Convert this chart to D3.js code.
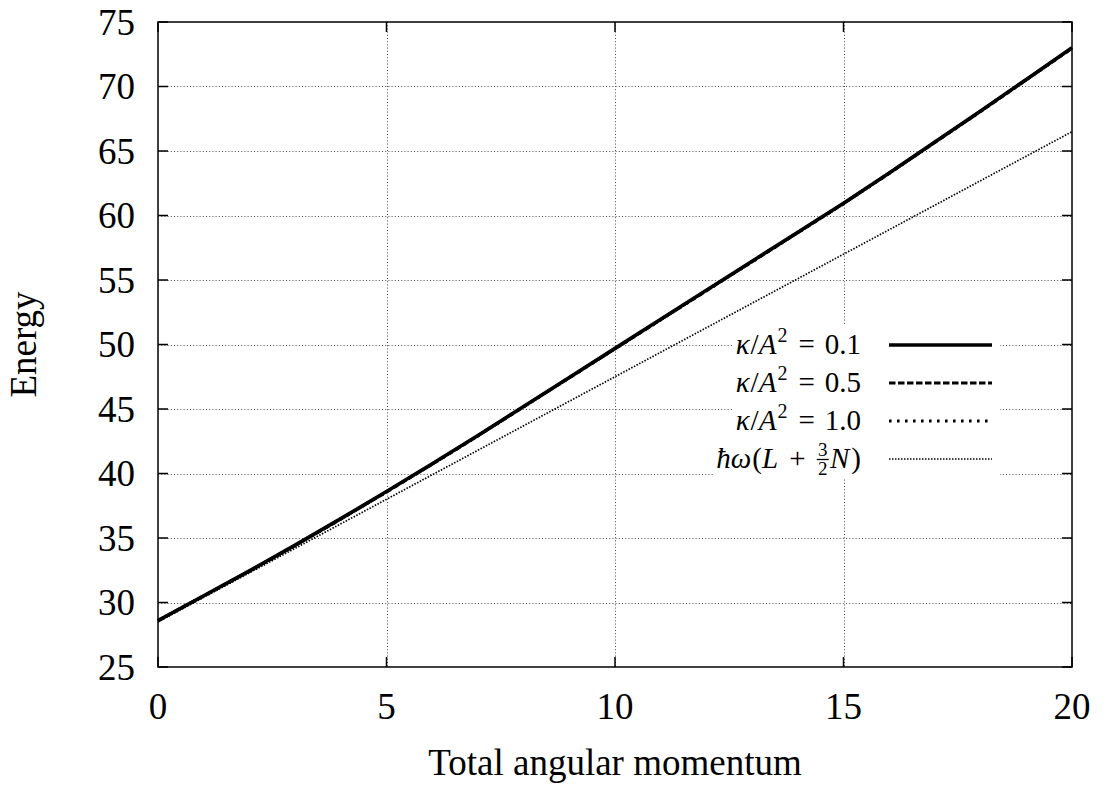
<!DOCTYPE html>
<html>
<head>
<meta charset="utf-8">
<script src="https://cdn.jsdelivr.net/npm/d3@7"></script>
<style>
  html, body { margin: 0; padding: 0; background: #fff; }
  svg { display: block; }
  .tick-label { font-family: "Liberation Serif", "DejaVu Serif", serif; font-size: 37px; fill: #000; }
  .leg { font-family: "Liberation Serif", "DejaVu Serif", serif; fill: #000; }
</style>
</head>
<body>
<svg id="chart" width="1106" height="788"></svg>
<script>
// ---- data ----
const angularMomentum = [0,1,2,3,4,5,6,7,8,9,10,11,12,13,14,15,16,17,18,19,20];
const energyKappa01 = [28.6,30.52,32.45,34.45,36.5,38.6,40.75,42.95,45.2,47.45,49.7,51.95,54.2,56.45,58.7,60.95,63.3,65.7,68.1,70.55,73.0];
const energyKappa05 = [28.6,30.51,32.44,34.43,36.48,38.58,40.73,42.93,45.18,47.43,49.68,51.93,54.18,56.43,58.68,60.93,63.28,65.68,68.08,70.53,72.98];
const energyKappa10 = [28.6,30.5,32.43,34.42,36.46,38.56,40.71,42.91,45.16,47.41,49.66,51.91,54.16,56.41,58.66,60.91,63.26,65.66,68.06,70.51,72.96];
const energyHarmonic = [28.5,30.4,32.3,34.2,36.1,38.0,39.9,41.8,43.7,45.6,47.5,49.4,51.3,53.2,55.1,57.0,58.9,60.8,62.7,64.6,66.5];
const xTicks = [0,5,10,15,20];
const yTicks = [25,30,35,40,45,50,55,60,65,70,75];
const xTitle = "Total angular momentum";
const yTitle = "Energy";
const kappaValues = ["0.1","0.5","1.0"];

// ---- layout ----
const svg = d3.select("#chart");
const m = {left: 158, right: 1072, top: 22, bottom: 667};
const x = d3.scaleLinear().domain([0, 20]).range([m.left, m.right]);
const y = d3.scaleLinear().domain([25, 75]).range([m.bottom, m.top]);

// grid
const grid = svg.append("g").attr("stroke", "#444").attr("stroke-width", 1).attr("stroke-dasharray", "1,2.2");
yTicks.slice(1, -1).forEach(v => {
  grid.append("line").attr("x1", m.left).attr("x2", m.right).attr("y1", Math.round(y(v)) + 0.5).attr("y2", Math.round(y(v)) + 0.5);
});
xTicks.slice(1, -1).forEach(v => {
  grid.append("line").attr("y1", m.top).attr("y2", m.bottom).attr("x1", Math.round(x(v)) + 0.5).attr("x2", Math.round(x(v)) + 0.5);
});

// legend
const legendG = svg.append("g");
const bgG = legendG.append("g");
const textG = legendG.append("g");
const legendRowsY = [345, 383, 421, 459];
const textRight = 861;
const sampleX1 = 889, sampleX2 = 992;
const styles = [
  {w: 3.6, dash: null},
  {w: 3.2, dash: "6.5,2.5"},
  {w: 3.0, dash: "2.6,5.4"},
  {w: 1.7, dash: "1.5,1.5"}
];
const FS = 29, SUP = 20, FR = 19;

function measure(str, size, italic) {
  const t = textG.append("text").attr("class", "leg").attr("font-size", size + "px")
    .attr("font-style", italic ? "italic" : "normal").text(str);
  const w = t.node().getComputedTextLength();
  t.remove();
  return w;
}
function layout(pieces, rightX, baseY) {
  pieces.forEach(p => {
    if (p.frac) p.w = Math.max(measure(p.frac[0], FR, false), measure(p.frac[1], FR, false)) + 5;
    else p.w = measure(p.s, p.size, p.italic);
    p.w += (p.pad || 0);
  });
  const total = d3.sum(pieces, p => p.w);
  let cx = rightX - total;
  const left = cx;
  pieces.forEach(p => {
    const px = cx + (p.padL || 0);
    if (p.frac) {
      const mid = cx + p.w / 2;
      textG.append("text").attr("class", "leg").attr("font-size", FR + "px").attr("x", mid).attr("y", baseY - 12).attr("text-anchor", "middle").text(p.frac[0]);
      textG.append("line").attr("x1", mid - 6).attr("x2", mid + 6).attr("y1", baseY - 8.5).attr("y2", baseY - 8.5).attr("stroke", "#000").attr("stroke-width", 1.3);
      textG.append("text").attr("class", "leg").attr("font-size", FR + "px").attr("x", mid).attr("y", baseY + 7).attr("text-anchor", "middle").text(p.frac[1]);
    } else {
      textG.append("text").attr("class", "leg").attr("font-size", p.size + "px")
        .attr("font-style", p.italic ? "italic" : "normal")
        .attr("x", px).attr("y", baseY + (p.dy || 0)).text(p.s);
    }
    cx += p.w;
  });
  return left;
}
const lefts = [];
kappaValues.forEach((v, i) => {
  const base = legendRowsY[i] + 9;
  lefts.push(layout([
    {s: "κ", size: FS, italic: true, pad: 1},
    {s: "/", size: FS},
    {s: "A", size: FS, italic: true, pad: 1},
    {s: "2", size: SUP, dy: -12, pad: 1},
    {s: "=", size: FS, pad: 20, padL: 10},
    {s: v, size: FS}
  ], textRight, base));
});
{
  const base = legendRowsY[3] + 9;
  lefts.push(layout([
    {s: "ħω", size: FS, italic: true, pad: 1},
    {s: "(", size: FS},
    {s: "L", size: FS, italic: true, pad: 1},
    {s: "+", size: FS, pad: 20, padL: 10},
    {frac: ["3", "2"]},
    {s: "N", size: FS, italic: true, pad: 2},
    {s: ")", size: FS}
  ], textRight, base));
}
lefts.forEach((lx, i) => {
  bgG.append("rect").attr("x", lx - 3).attr("y", legendRowsY[i] - 19).attr("width", 1000 - lx + 3).attr("height", 38).attr("fill", "#fff");
});

// curves
const line = d3.line().x((d, i) => x(angularMomentum[i])).y(d => y(d));
const series = [energyKappa10, energyKappa05, energyKappa01, energyHarmonic];
const seriesStyle = [styles[2], styles[1], styles[0], styles[3]];
const curves = svg.append("g").attr("fill", "none").attr("stroke", "#000");
series.forEach((s, k) => {
  const st = seriesStyle[k];
  curves.append("path").datum(s).attr("d", line).attr("stroke-width", st.w).attr("stroke-dasharray", st.dash).attr("stroke-linejoin", "round");
});

// legend samples
legendRowsY.forEach((yy, i) => {
  legendG.append("line").attr("x1", sampleX1).attr("x2", sampleX2).attr("y1", yy).attr("y2", yy)
    .attr("stroke", "#000").attr("stroke-width", styles[i].w).attr("stroke-dasharray", styles[i].dash);
});

// frame
svg.append("rect").attr("x", m.left).attr("y", m.top).attr("width", m.right - m.left).attr("height", m.bottom - m.top)
  .attr("fill", "none").attr("stroke", "#000").attr("stroke-width", 1.5);

// ticks (inward, mirrored)
const tickLen = 10;
const axG = svg.append("g").attr("stroke", "#000").attr("stroke-width", 1.5);
yTicks.forEach(v => {
  axG.append("line").attr("x1", m.left).attr("x2", m.left + tickLen).attr("y1", y(v)).attr("y2", y(v));
  axG.append("line").attr("x1", m.right).attr("x2", m.right - tickLen).attr("y1", y(v)).attr("y2", y(v));
});
xTicks.forEach(v => {
  axG.append("line").attr("x1", x(v)).attr("x2", x(v)).attr("y1", m.bottom).attr("y2", m.bottom - tickLen);
  axG.append("line").attr("x1", x(v)).attr("x2", x(v)).attr("y1", m.top).attr("y2", m.top + tickLen);
});

// tick labels
svg.append("g").selectAll("text").data(yTicks).join("text")
  .attr("class", "tick-label").attr("x", 135).attr("y", d => y(d) + 12.5).attr("text-anchor", "end").text(d => d);
svg.append("g").selectAll("text").data(xTicks).join("text")
  .attr("class", "tick-label").attr("x", d => x(d)).attr("y", 719).attr("text-anchor", "middle").text(d => d);

// titles
svg.append("text").attr("class", "tick-label").attr("x", (m.left + m.right) / 2).attr("y", 775).attr("text-anchor", "middle").text(xTitle);
svg.append("text").attr("class", "tick-label").attr("transform", `translate(36, ${(m.top + m.bottom) / 2}) rotate(-90)`).attr("text-anchor", "middle").text(yTitle);
</script>
</body>
</html>
